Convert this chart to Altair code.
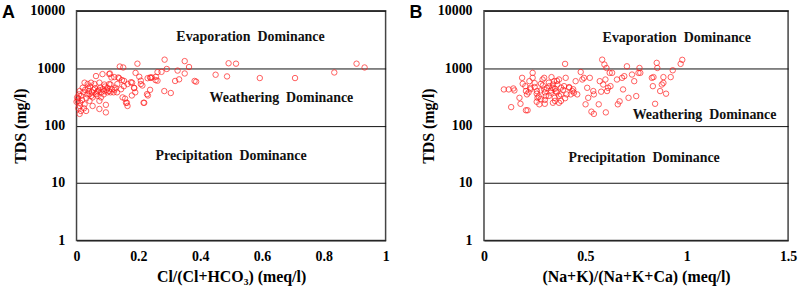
import altair as alt
import pandas as pd

# ---------------- Panel A data: Cl/(Cl+HCO3) vs TDS ----------------
a_x = [0.906, 0.932, 0.834, 0.707, 0.593, 0.516, 0.492, 0.487, 0.45, 0.387, 0.382, 0.364,
       0.35, 0.35, 0.332, 0.327, 0.319, 0.305, 0.284, 0.285, 0.292, 0.275, 0.262, 0.262,
       0.257, 0.244, 0.238, 0.23, 0.238, 0.231, 0.217, 0.213, 0.208, 0.203, 0.197, 0.191,
       0.187, 0.179, 0.176, 0.163, 0.157, 0.153, 0.151, 0.14, 0.147, 0.135, 0.132, 0.123,
       0.113, 0.108, 0.106,
       0.063, 0.084, 0.106, 0.122, 0.138, 0.154, 0.036, 0.026, 0.02, 0.047, 0.058, 0.074,
       0.09, 0.1, 0.11, 0.126, 0.144, 0.165, 0.18, 0.186, 0.004, 0.01, 0.015, 0.01, 0.01,
       0.026, 0.031, 0.042, 0.042, 0.052, 0.052, 0.063, 0.069, 0.074, 0.074, 0.079, 0.09,
       0.095, 0.095, 0.11, 0.131, 0.149, 0.16, 0.165, 0.19, 0.208, 0.219, 0.228, 0.24, 0.256,
       0.005, 0.008, 0.012, 0.018, 0.022, 0.028, 0.032, 0.035, 0.038, 0.04, 0.044, 0.048,
       0.05, 0.055, 0.06, 0.065, 0.068, 0.072, 0.077, 0.08, 0.085, 0.088, 0.092, 0.097,
       0.1, 0.105, 0.115, 0.12, 0.0, 0.002, 0.006, 0.014, 0.024]
a_tds = [1200, 1030, 843, 674, 674, 1200, 1220, 720, 770, 583, 600, 1050,
         1330, 810, 640, 910, 600, 370, 400, 1410, 970, 865, 855, 606,
         710, 690, 690, 670, 420, 335, 250, 500, 606, 710, 1200, 830,
         450, 335, 570, 250, 295, 485, 1030, 1070, 622, 690, 530, 420,
         690, 810, 530,
         730, 790, 790, 700, 670, 600, 530, 560, 457, 560, 530, 560,
         520, 457, 520, 457, 430, 530, 560, 457, 270, 400, 330, 220, 160,
         235, 180, 353, 270, 220, 310, 353, 400, 270, 195, 310, 400,
         170, 230, 380, 380, 310, 250, 220, 380, 530, 250, 353, 680, 620,
         300, 350, 250, 280, 380, 420, 300, 350, 450, 400, 480, 330,
         380, 420, 450, 380, 330, 420, 460, 380, 430, 350, 480, 420,
         380, 400, 430, 380, 260, 310, 200, 180, 200]

# ---------------- Panel B data: (Na+K)/(Na+K+Ca) vs TDS ----------------
b_x = [0.098, 0.122, 0.145, 0.15, 0.134, 0.175, 0.18, 0.207, 0.215,
       0.188, 0.191, 0.204, 0.207, 0.212, 0.224, 0.229, 0.24, 0.24,
       0.261, 0.264, 0.273, 0.281, 0.289, 0.297, 0.297, 0.305,
       0.322, 0.33, 0.333, 0.338, 0.346, 0.349, 0.354, 0.362, 0.37, 0.37, 0.379,
       0.395, 0.4, 0.403, 0.408, 0.42, 0.428, 0.436, 0.444, 0.452, 0.46,
       0.477, 0.485, 0.493, 0.501, 0.509, 0.514, 0.522, 0.53, 0.542, 0.539, 0.542,
       0.566, 0.571, 0.578, 0.583, 0.588, 0.594, 0.599, 0.601, 0.604, 0.607, 0.612,
       0.62, 0.624, 0.632,
       0.656, 0.66, 0.669, 0.681, 0.686, 0.692, 0.705, 0.713, 0.73, 0.741, 0.751,
       0.762, 0.767, 0.771, 0.828, 0.833, 0.836, 0.844, 0.852, 0.855,
       0.869, 0.877, 0.885, 0.885, 0.898, 0.921, 0.931, 0.97, 0.978,
       0.22, 0.23, 0.25, 0.26, 0.27, 0.28, 0.29, 0.3, 0.31, 0.32, 0.33, 0.34, 0.35,
       0.36, 0.37, 0.38, 0.39, 0.3, 0.35, 0.4, 0.28, 0.32, 0.36, 0.25, 0.42, 0.44,
       0.26, 0.3, 0.34, 0.38]
b_tds = [427, 427, 444, 410, 210, 305, 240, 185, 185,
         680, 535, 487, 400, 350, 595, 456, 830, 680,
         400, 305, 235, 535, 636, 680, 427, 327,
         487, 374, 700, 456, 595, 305, 400, 520, 250, 636, 350,
         487, 1190, 680, 350, 456, 350, 400, 374, 595, 350,
         860, 636, 680, 235, 456, 305, 680, 175, 160, 400, 350,
         235, 595, 390, 1410, 520, 1160, 636, 170, 1010, 400, 456,
         830, 487, 830,
         636, 235, 265, 680, 427, 727, 1080, 305, 776, 595, 327,
         830, 1010, 830, 680, 487, 700, 240, 1240, 1010,
         400, 520, 555, 700, 360, 700, 920, 1190, 1400,
         380, 430, 470, 360, 320, 410, 500, 380, 450, 330, 410, 520, 440,
         380, 330, 460, 420, 280, 270, 300, 290, 560, 600, 550, 470, 430,
         260, 240, 250, 270]

# ---------------- Region labels ----------------
a_lab_x = [0.563, 0.663, 0.5]
a_lab_y = [3550, 300, 30]
b_lab_x = [0.951, 1.088, 0.79]
b_lab_y = [3400, 155, 27]
lab_text = ["Evaporation\u00a0 Dominance", "Weathering\u00a0 Dominance",
            "Precipitation\u00a0 Dominance"]

SERIF = "Liberation Serif"
SANS = "Liberation Sans"
Y_TICKS = [1, 10, 100, 1000, 10000]


def panel(xs, ys, lx, ly, xdom, xticks, xtitle, letter, w):
    df = pd.DataFrame({"x": xs, "tds": ys})
    lab = pd.DataFrame({"x": lx, "tds": ly, "t": lab_text})
    xenc = alt.X("x:Q",
                 scale=alt.Scale(domain=xdom, nice=False, zero=False),
                 axis=alt.Axis(values=xticks, format="~g", title=xtitle, grid=False,
                               ticks=False, domain=False, labelPadding=9, titlePadding=5,
                               labelFlush=False))
    yenc = alt.Y("tds:Q",
                 scale=alt.Scale(type="log", domain=[1, 10000], nice=False),
                 axis=alt.Axis(values=Y_TICKS, format="d", title="TDS (mg/l)",
                               grid=True, gridColor="#111111", gridWidth=1,
                               ticks=False, domain=False, labelPadding=12,
                               titlePadding=1, labelFlush=False))
    pts = alt.Chart(df).mark_point(shape="circle", filled=False, color="#ff1a1a",
                                   size=30, strokeWidth=1).encode(x=xenc, y=yenc)
    txt = alt.Chart(lab).mark_text(font=SERIF, fontWeight="bold", fontSize=14,
                                   color="#111111").encode(x="x:Q", y="tds:Q", text="t:N")
    let = alt.Chart(pd.DataFrame({"t": [letter]})).mark_text(
        font=SANS, fontWeight="bold", fontSize=18, align="left", baseline="alphabetic",
        color="black").encode(x=alt.value(-75), y=alt.value(7), text="t:N")
    return alt.layer(pts, txt, let).properties(width=w, height=231)


a = panel(a_x, a_tds, a_lab_x, a_lab_y, [0, 1], [0, 0.2, 0.4, 0.6, 0.8, 1],
          "Cl/(Cl+HCO\u2083) (meq/l)", "A", 311)
b = panel(b_x, b_tds, b_lab_x, b_lab_y, [0, 1.5], [0, 0.5, 1, 1.5],
          "(Na+K)/(Na+K+Ca) (meq/l)", "B", 306)

chart = alt.hconcat(a, b, spacing=18).properties(
    padding={"left": 1, "top": 2, "right": 5, "bottom": 2},
    background="white"
).configure_view(
    stroke="#444444", strokeWidth=1.5
).configure_axis(
    labelFont=SERIF, labelFontWeight="bold", labelFontSize=14, labelColor="black",
    titleFont=SERIF, titleFontWeight="bold", titleFontSize=16, titleColor="black"
)

chart.save("out.html", embed_options={"renderer": "svg", "actions": False})
